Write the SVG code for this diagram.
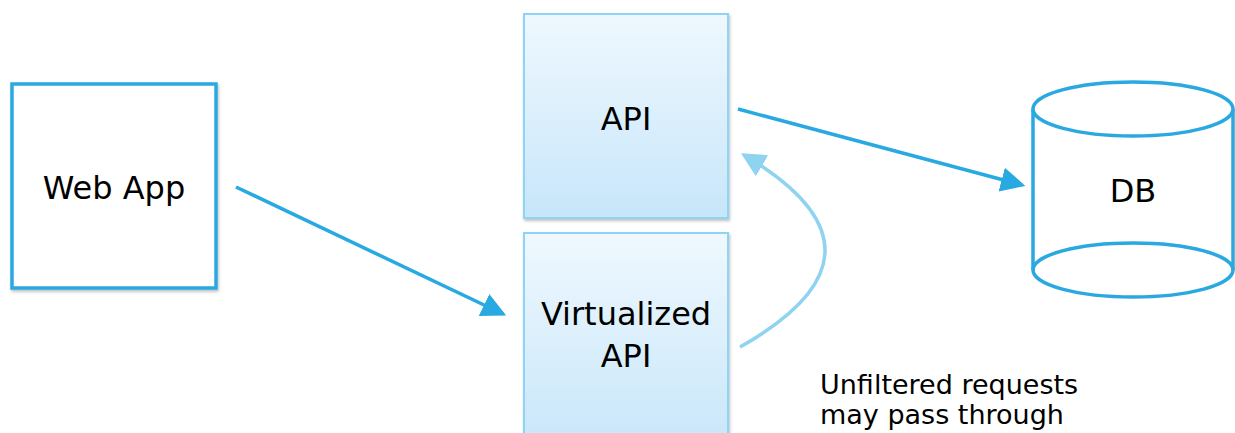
<svg xmlns="http://www.w3.org/2000/svg" width="1235" height="433" viewBox="0 0 1235 433">
<defs>
<style>
.lbl{font-family:"DejaVu Sans","Liberation Sans",sans-serif;font-size:32px;fill:#000;text-anchor:middle}
.note{font-family:"DejaVu Sans","Liberation Sans",sans-serif;font-size:27px;fill:#000}
.dark{fill:#fff;stroke:#2aa8e0;stroke-width:3.5}
.api{fill:url(#g);stroke:#8ed4f6;stroke-width:2}
.conn{fill:none;stroke:#29a9e1;stroke-width:3.5}
.conn2{fill:none;stroke:#8ed3f0;stroke-width:3.5}
</style>
<linearGradient id="g" x1="0" y1="0" x2="0" y2="1">
<stop offset="0" stop-color="#eff8fe"/>
<stop offset="1" stop-color="#c7e6fa"/>
</linearGradient>
<filter id="sh" x="-10%" y="-10%" width="120%" height="120%">
<feDropShadow dx="1" dy="2" stdDeviation="1.5" flood-color="#000" flood-opacity="0.25"/>
</filter>
<marker id="ah" markerWidth="8" markerHeight="8" refX="6" refY="4" orient="auto" markerUnits="strokeWidth">
<path d="M0,0.5 L7,4 L0,7.5 z" fill="#29a9e1"/>
</marker>
<marker id="ah2" markerWidth="8" markerHeight="8" refX="6" refY="4" orient="auto" markerUnits="strokeWidth">
<path d="M0,0.5 L7,4 L0,7.5 z" fill="#8ed3f0"/>
</marker>
</defs>
<g id="webapp">
<rect class="dark" x="12" y="84" width="204" height="204" filter="url(#sh)"/>
<text class="lbl" x="114" y="199">Web App</text>
</g>
<g id="api">
<rect class="api" x="524" y="14" width="204" height="204" filter="url(#sh)"/>
<text class="lbl" x="626" y="130">API</text>
</g>
<g id="vapi">
<rect class="api" x="524" y="233" width="204" height="220" filter="url(#sh)"/>
<text class="lbl" x="626" y="325">Virtualized</text>
<text class="lbl" x="626" y="367">API</text>
</g>
<g id="db">
<path d="M1033,109 L1033,270 A100,27 0 0 0 1233,270 L1233,109" fill="#fff" stroke="#2aa8e0" stroke-width="3.5"/>
<ellipse cx="1133" cy="109" rx="100" ry="27" fill="#fff" stroke="#2aa8e0" stroke-width="3.5"/>
<path d="M1033,270 A100,27 0 0 1 1233,270" fill="none" stroke="#2aa8e0" stroke-width="3.5"/>
<text class="lbl" x="1133" y="202">DB</text>
</g>
<g id="connectors">
<line class="conn" x1="236" y1="187" x2="503" y2="314" marker-end="url(#ah)"/>
<line class="conn" x1="738" y1="109" x2="1022" y2="185" marker-end="url(#ah)"/>
<path class="conn2" d="M740,347 Q908,252 744,155" marker-end="url(#ah2)"/>
</g>
<g id="note">
<text class="note" x="820" y="394">Unfiltered requests</text>
<text class="note" x="820" y="424">may pass through</text>
</g>
</svg>
